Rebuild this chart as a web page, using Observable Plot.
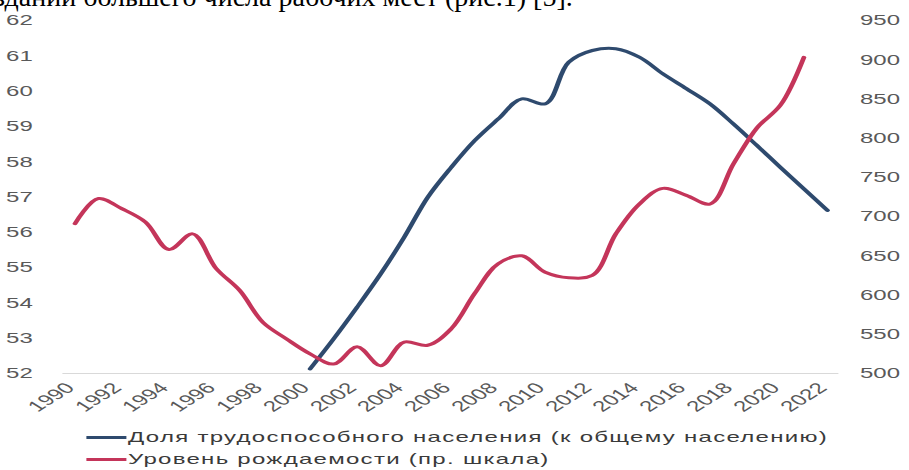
<!DOCTYPE html>
<html><head><meta charset="utf-8">
<script src="https://cdn.jsdelivr.net/npm/d3@7"></script>
<script src="https://cdn.jsdelivr.net/npm/@observablehq/plot@0.6"></script>
<style>
html,body{margin:0;padding:0;background:#fff;width:909px;height:470px;overflow:hidden;position:relative;}
#top{position:absolute;left:-6px;top:-17px;font-family:"Liberation Serif","Times New Roman",serif;font-size:28px;line-height:28px;white-space:nowrap;color:#000;}
#wrap{position:absolute;left:0;top:0;width:568px;height:470px;transform:scaleX(1.6);transform-origin:0 0;}
#chart{position:relative;width:568px;height:420px;}
#chart svg{position:absolute;left:0;top:0;}
.lg{position:absolute;left:54px;height:18px;line-height:18px;font-family:"Liberation Sans",Arial,sans-serif;font-size:15px;letter-spacing:0.8px;color:#3a3a3a;white-space:nowrap;}
.lg .sw{display:inline-block;width:25px;height:3px;vertical-align:middle;margin-right:1px;position:relative;top:-1px;}
</style></head>
<body>
<div id="top">здании большего числа рабочих мест (рис.1) [5].</div>
<div id="wrap">
  <div id="chart"></div>
  <div class="lg" id="lg1" style="top:428px"></div>
  <div class="lg" id="lg2" style="top:450px"></div>
</div>
<script>
// ---- data ----
const xTicks = [1990,1992,1994,1996,1998,2000,2002,2004,2006,2008,2010,2012,2014,2016,2018,2020,2022];
const leftTicks = [52,53,54,55,56,57,58,59,60,61,62];
const rightTicks = [500,550,600,650,700,750,800,850,900,950];

const workYears = [2000,2001,2002,2003,2004,2005,2006,2007,2008,2009,2010,2011,2012,2013,2014,2015,2016,2017,2018,2019,2020,2021,2022];
const workShare = [52.13,52.98,53.88,54.82,55.86,56.99,57.84,58.6,59.21,59.78,59.64,60.82,61.15,61.2,60.96,60.49,60.07,59.64,59.07,58.46,57.84,57.23,56.62];

const birthYears = [1990,1991,1992,1993,1994,1995,1996,1997,1998,1999,2000,2001,2002,2003,2004,2005,2006,2007,2008,2009,2010,2011,2012,2013,2014,2015,2016,2017,2018,2019,2020,2021];
const birthRate = [691,723,710,693,658,678,634,606,565,544,525,512,534,510,540,536,557,602,640,650,629,622,625,678,716,736,727,716,767,813,842,903];

const seriesNames = ["Доля трудоспособного населения (к общему населению)", "Уровень рождаемости (пр. шкала)"];
const colors = ["#2e4a6e", "#c4355a"];

// ---- chart ----
const W = 568, H = 420;
const common = {
  width: W, height: H,
  marginLeft: 39, marginRight: 44, marginTop: 20, marginBottom: 47,
  x: {domain: [1989.5, 2022.5]},
  style: {fontFamily: '"Liberation Sans", Arial, sans-serif', fontSize: "15px", color: "#595959", background: "transparent", overflow: "visible"}
};
const workData = workYears.map((y, i) => ({year: y, v: workShare[i]}));
const birthData = birthYears.map((y, i) => ({year: y, v: birthRate[i]}));

const p1 = Plot.plot({
  ...common,
  y: {domain: [52, 62]},
  marks: [
    Plot.ruleY([52], {stroke: "#d9d9d9", strokeWidth: 1.2}),
    Plot.axisY(leftTicks, {tickSize: 0, tickPadding: 19, label: null, tickFormat: d => String(d)}),
    Plot.axisX(xTicks, {tickSize: 0, tickRotate: -45, tickPadding: 4, label: null, tickFormat: d => String(d)}),
    Plot.line(workData, {x: "year", y: "v", stroke: colors[0], strokeWidth: 3, curve: "catmull-rom"})
  ]
});
// nudge the rotated year labels slightly down/left, as in the reference
const xlab = p1.querySelector('g[aria-label="x-axis tick label"]');
if (xlab) {
  const t = xlab.getAttribute("transform") || "";
  xlab.setAttribute("transform", "translate(-3,8) " + t);
}
const p2 = Plot.plot({
  ...common,
  x: {domain: [1989.5, 2022.5], axis: null},
  y: {domain: [500, 950]},
  marks: [
    Plot.axisY(rightTicks, {anchor: "right", tickSize: 0, tickPadding: 13, label: null, tickFormat: d => String(d)}),
    Plot.line(birthData, {x: "year", y: "v", stroke: colors[1], strokeWidth: 3, curve: "catmull-rom"})
  ]
});
const chart = document.getElementById("chart");
chart.appendChild(p1);
chart.appendChild(p2);

["lg1", "lg2"].forEach((id, i) => {
  const el = document.getElementById(id);
  const sw = document.createElement("span");
  sw.className = "sw";
  sw.style.background = colors[i];
  el.appendChild(sw);
  el.appendChild(document.createTextNode(seriesNames[i]));
});
</script>
</body></html>
